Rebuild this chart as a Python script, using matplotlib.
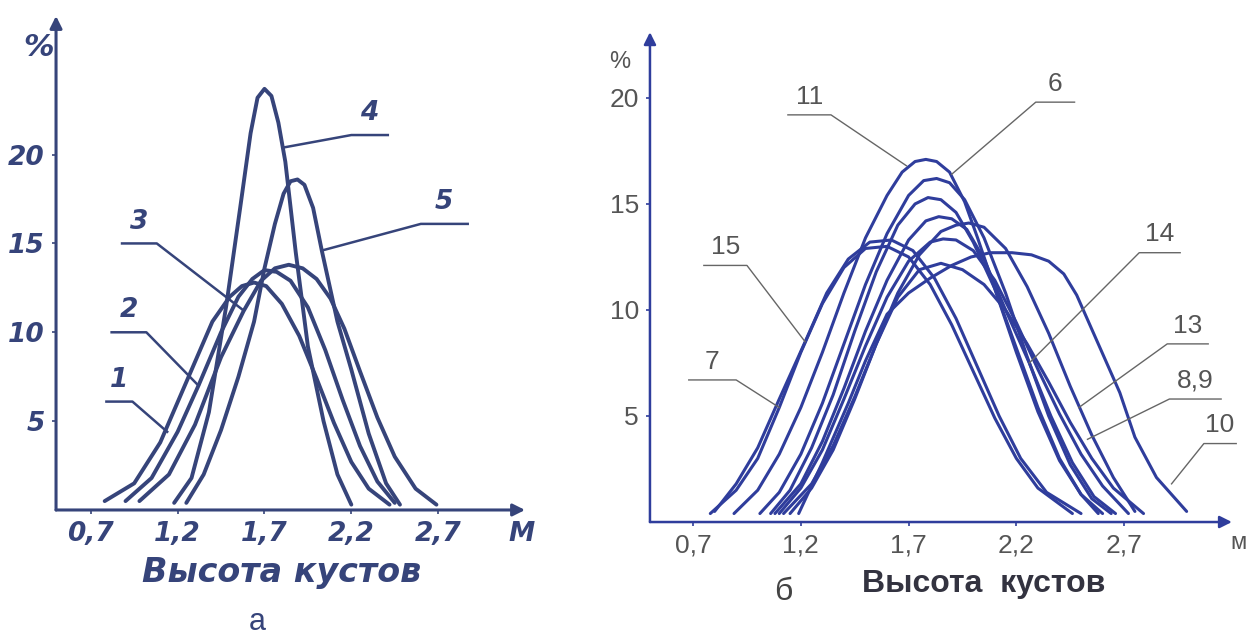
import matplotlib.pyplot as plt

# --- panel a: bush height distributions, curves 1-5 ---
a1_x = [0.78, 0.95, 1.10, 1.25, 1.40, 1.50, 1.57, 1.64, 1.71, 1.80, 1.90, 2.00, 2.10, 2.20, 2.30, 2.42]
a1_y = [0.5, 1.5, 3.8, 7.2, 10.6, 12.0, 12.6, 12.8, 12.6, 11.6, 9.8, 7.4, 4.9, 2.7, 1.2, 0.3]
a2_x = [0.90, 1.05, 1.20, 1.32, 1.45, 1.55, 1.63, 1.70, 1.77, 1.85, 1.95, 2.05, 2.15, 2.25, 2.35, 2.45]
a2_y = [0.5, 1.8, 4.4, 7.0, 10.0, 12.0, 13.0, 13.5, 13.4, 12.9, 11.4, 9.0, 6.2, 3.6, 1.6, 0.4]
a3_x = [0.98, 1.15, 1.30, 1.45, 1.58, 1.68, 1.76, 1.84, 1.92, 2.00, 2.08, 2.16, 2.25, 2.35, 2.45, 2.57, 2.69]
a3_y = [0.5, 2.0, 4.8, 8.6, 11.2, 12.9, 13.6, 13.8, 13.6, 13.0, 11.9, 10.2, 7.8, 5.2, 3.0, 1.2, 0.3]
a4_x = [1.18, 1.28, 1.38, 1.48, 1.56, 1.62, 1.66, 1.70, 1.74, 1.78, 1.82, 1.88, 1.95, 2.04, 2.12, 2.20]
a4_y = [0.4, 1.8, 5.5, 11.5, 17.0, 21.2, 23.2, 23.7, 23.3, 21.8, 19.6, 14.5, 9.2, 5.0, 2.0, 0.3]
a5_x = [1.25, 1.35, 1.45, 1.55, 1.64, 1.70, 1.76, 1.81, 1.85, 1.89, 1.93, 1.98, 2.03, 2.12, 2.20, 2.30, 2.40, 2.48]
a5_y = [0.4, 2.0, 4.5, 7.5, 10.6, 13.6, 16.1, 17.8, 18.5, 18.6, 18.3, 17.0, 14.6, 10.6, 7.9, 4.3, 1.5, 0.3]

# --- panel b: curves 6-15 ---
b7_x = [0.78, 0.90, 1.00, 1.10, 1.20, 1.30, 1.40, 1.50, 1.60, 1.70, 1.80, 1.90, 2.00, 2.10, 2.20, 2.30, 2.46]
b7_y = [0.4, 1.5, 3.0, 5.4, 8.0, 10.3, 12.0, 12.9, 13.0, 12.5, 11.2, 9.3, 7.1, 4.9, 3.0, 1.6, 0.4]
b15_x = [0.80, 0.90, 1.00, 1.10, 1.22, 1.32, 1.42, 1.52, 1.62, 1.72, 1.82, 1.92, 2.02, 2.12, 2.22, 2.34, 2.50]
b15_y = [0.5, 1.8, 3.5, 5.8, 8.5, 10.8, 12.4, 13.2, 13.3, 12.8, 11.5, 9.6, 7.3, 5.0, 3.0, 1.4, 0.4]
b11_x = [0.89, 1.00, 1.10, 1.20, 1.30, 1.40, 1.50, 1.60, 1.67, 1.73, 1.78, 1.83, 1.89, 1.96, 2.02, 2.10, 2.20, 2.30, 2.40, 2.50, 2.60]
b11_y = [0.4, 1.5, 3.2, 5.4, 8.0, 10.8, 13.4, 15.4, 16.5, 17.0, 17.1, 17.0, 16.5, 15.1, 13.4, 11.0, 8.0, 5.2, 2.9, 1.3, 0.4]
b6_x = [1.01, 1.10, 1.20, 1.30, 1.40, 1.50, 1.60, 1.70, 1.77, 1.83, 1.89, 1.96, 2.05, 2.15, 2.25, 2.35, 2.45, 2.55, 2.64]
b6_y = [0.4, 1.4, 3.2, 5.6, 8.4, 11.2, 13.6, 15.4, 16.1, 16.2, 16.0, 15.2, 13.4, 10.8, 7.8, 5.0, 2.7, 1.1, 0.4]
b12_x = [1.06, 1.15, 1.25, 1.35, 1.45, 1.55, 1.65, 1.73, 1.79, 1.85, 1.92, 2.00, 2.10, 2.20, 2.30, 2.40, 2.50, 2.58]
b12_y = [0.4, 1.5, 3.5, 6.0, 9.0, 11.8, 14.0, 15.0, 15.3, 15.2, 14.6, 13.2, 11.0, 8.2, 5.4, 3.0, 1.3, 0.4]
b14_x = [1.08, 1.20, 1.30, 1.40, 1.50, 1.60, 1.70, 1.78, 1.84, 1.90, 1.97, 2.05, 2.15, 2.26, 2.36, 2.46, 2.56, 2.66]
b14_y = [0.4, 1.8, 3.8, 6.3, 9.0, 11.4, 13.3, 14.2, 14.4, 14.3, 13.8, 12.4, 10.0, 7.5, 5.0, 2.8, 1.2, 0.4]
b13_x = [1.12, 1.25, 1.35, 1.45, 1.55, 1.65, 1.75, 1.85, 1.92, 1.98, 2.05, 2.15, 2.25, 2.35, 2.45, 2.55, 2.65, 2.75]
b13_y = [0.4, 1.8, 3.6, 5.9, 8.4, 10.8, 12.6, 13.7, 14.0, 14.1, 13.9, 12.9, 11.1, 8.9, 6.4, 4.1, 2.1, 0.5]
b8_x = [1.10, 1.20, 1.30, 1.40, 1.50, 1.60, 1.70, 1.80, 1.86, 1.92, 2.00, 2.10, 2.20, 2.30, 2.40, 2.50, 2.60, 2.72]
b8_y = [0.4, 1.6, 3.4, 5.8, 8.3, 10.6, 12.3, 13.2, 13.35, 13.3, 12.8, 11.4, 9.4, 7.2, 5.1, 3.2, 1.7, 0.4]
b9_x = [1.15, 1.25, 1.35, 1.45, 1.55, 1.65, 1.75, 1.85, 1.95, 2.05, 2.15, 2.25, 2.35, 2.45, 2.55, 2.65, 2.79]
b9_y = [0.4, 1.6, 3.4, 5.8, 8.4, 10.6, 11.9, 12.2, 11.9, 11.2, 10.0, 8.4, 6.6, 4.7, 3.0, 1.6, 0.4]
b10_x = [1.19, 1.30, 1.42, 1.50, 1.60, 1.70, 1.80, 1.90, 1.99, 2.08, 2.18, 2.27, 2.35, 2.42, 2.48, 2.58, 2.68, 2.75, 2.85, 2.99]
b10_y = [0.4, 2.8, 5.6, 7.6, 9.8, 10.8, 11.5, 12.1, 12.5, 12.7, 12.7, 12.6, 12.3, 11.7, 10.7, 8.4, 6.1, 4.0, 2.1, 0.5]

x_ticks = [0.7, 1.2, 1.7, 2.2, 2.7]
x_tick_labels = ['0,7', '1,2', '1,7', '2,2', '2,7']
y_ticks = [5, 10, 15, 20]

ink_a = '#36447a'
ink_b = '#2f3d9c'
grey = '#555555'

fig = plt.figure(figsize=(12.48, 6.37), dpi=100)
fig.patch.set_facecolor('white')

ax_a = fig.add_axes([0.0449, 0.1994, 0.3758, 0.7755])
ax_b = fig.add_axes([0.5208, 0.1805, 0.4663, 0.769])

narrow = ['Liberation Sans Narrow', 'DejaVu Sans Condensed', 'DejaVu Sans']
hand = dict(family=narrow, weight='bold', style='italic', color=ink_a)
plain = dict(family=['Liberation Sans', 'DejaVu Sans'], color=grey)


def setup(ax, xmax, ymax, color, lw):
    ax.set_xlim(0.5, xmax)
    ax.set_ylim(0, ymax)
    for s in ax.spines.values():
        s.set_visible(False)
    ax.patch.set_alpha(0)
    # arrows for both axes
    ax.annotate('', xy=(xmax, 0), xytext=(0.5, 0), annotation_clip=False,
                arrowprops=dict(arrowstyle='-|>', color=color, lw=lw, mutation_scale=18, shrinkA=0, shrinkB=0))
    ax.annotate('', xy=(0.5, ymax), xytext=(0.5, 0), annotation_clip=False,
                arrowprops=dict(arrowstyle='-|>', color=color, lw=lw, mutation_scale=18, shrinkA=0, shrinkB=0))
    ax.set_xticks(x_ticks)
    ax.set_yticks(y_ticks)
    ax.tick_params(axis='both', direction='out', length=3, width=1.2, color=color, pad=5)


# panel a
setup(ax_a, 3.2, 27.8, ink_a, 2.2)
ax_a.set_xticklabels(x_tick_labels, fontsize=19, **hand)
ax_a.set_yticklabels([str(v) for v in y_ticks], fontsize=19, **hand)
for xs, ys in [(a1_x, a1_y), (a2_x, a2_y), (a3_x, a3_y), (a4_x, a4_y), (a5_x, a5_y)]:
    ax_a.plot(xs, ys, color=ink_a, lw=2.8, solid_joinstyle='round', solid_capstyle='round', clip_on=False)

# curve numbers with underline and leader
labels_a = [
    ('1', (0.79, 0.94), 6.1, (1.14, 4.4)),
    ('2', (0.82, 1.02), 10.0, (1.32, 7.0)),
    ('3', (0.88, 1.08), 15.0, (1.57, 11.3)),
    ('4', (2.20, 2.41), 21.1, (1.81, 20.4)),
    ('5', (2.60, 2.87), 16.1, (2.03, 14.6)),
]
for txt, (u0, u1), uy, tip in labels_a:
    if tip[0] < u0:
        ax_a.plot([tip[0], u0, u1], [tip[1], uy, uy], color=ink_a, lw=1.8)
    else:
        ax_a.plot([u0, u1, tip[0]], [uy, uy, tip[1]], color=ink_a, lw=1.8)
    ax_a.text((u0 + u1) / 2, uy + 0.5, txt, ha='center', va='bottom', fontsize=19, **hand)

ax_a.text(0.40, 26.0, '%', ha='center', va='center', fontsize=22, **hand)
ax_a.text(3.18, -1.35, 'M', ha='center', va='center', fontsize=19, **hand)
ax_a.text(1.80, -3.5, 'Высота кустов', ha='center', va='center', fontsize=24, **hand)
ax_a.text(1.66, -6.3, 'а', ha='center', va='center', fontsize=22,
          family=['Liberation Sans', 'DejaVu Sans'], color=ink_a)

# panel b
setup(ax_b, 3.2, 23.1, ink_b, 1.8)
ax_b.set_xticklabels(x_tick_labels, fontsize=19, **plain)
ax_b.set_yticklabels([str(v) for v in y_ticks], fontsize=19, **plain)
curves_b = [(b7_x, b7_y), (b15_x, b15_y), (b11_x, b11_y), (b6_x, b6_y), (b12_x, b12_y),
            (b14_x, b14_y), (b13_x, b13_y), (b8_x, b8_y), (b9_x, b9_y), (b10_x, b10_y)]
for xs, ys in curves_b:
    ax_b.plot(xs, ys, color=ink_b, lw=2.2, solid_joinstyle='round', solid_capstyle='round', clip_on=False)

labels_b = [
    ('11', (1.14, 1.34), 19.2, (1.69, 16.8)),
    ('6', (2.29, 2.47), 19.8, (1.90, 16.4)),
    ('15', (0.75, 0.95), 12.1, (1.22, 8.5)),
    ('7', (0.68, 0.90), 6.7, (1.10, 5.4)),
    ('14', (2.77, 2.96), 12.7, (2.26, 7.5)),
    ('13', (2.90, 3.09), 8.4, (2.49, 5.4)),
    ('8,9', (2.91, 3.15), 5.8, (2.53, 3.9)),
    ('10', (3.07, 3.22), 3.7, (2.92, 1.8)),
]
for txt, (u0, u1), uy, tip in labels_b:
    if tip[0] < u0:
        ax_b.plot([tip[0], u0, u1], [tip[1], uy, uy], color='#666666', lw=1.0, clip_on=False)
    else:
        ax_b.plot([u0, u1, tip[0]], [uy, uy, tip[1]], color='#666666', lw=1.0, clip_on=False)
    ax_b.text((u0 + u1) / 2, uy + 0.3, txt, ha='center', va='bottom', fontsize=19, **plain)

ax_b.text(0.36, 21.7, '%', ha='center', va='center', fontsize=17, **plain)
ax_b.text(3.23, -1.0, 'м', ha='center', va='center', fontsize=17, **plain)
ax_b.text(2.05, -2.9, 'Высота  кустов', ha='center', va='center', fontsize=23, weight='bold',
          family=['Liberation Sans', 'DejaVu Sans'], color='#333340')
ax_b.text(1.12, -3.3, 'б', ha='center', va='center', fontsize=23,
          family=['Liberation Sans', 'DejaVu Sans'], color='#444444')

fig.savefig('out.png', dpi=100, facecolor='white')
